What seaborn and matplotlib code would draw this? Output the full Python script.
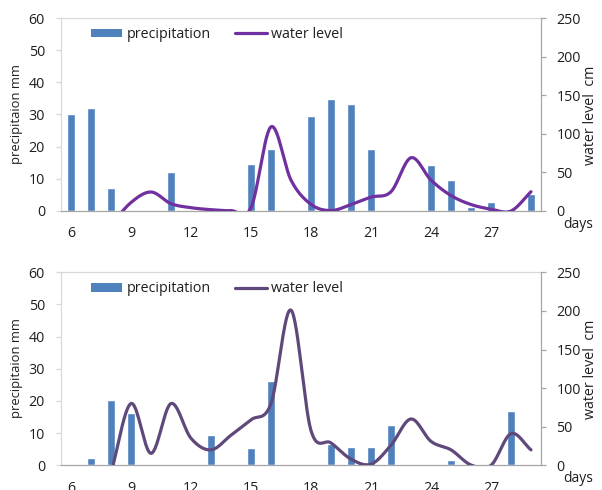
import numpy as np
import pandas as pd
import matplotlib
matplotlib.use("Agg")
import matplotlib.pyplot as plt
import seaborn as sns
from matplotlib.patches import Patch
from matplotlib.lines import Line2D

# ---------------- data ----------------
days = list(range(6, 30))
tick_days = [6, 9, 12, 15, 18, 21, 24, 27]

precip_top = [30, 32.1, 7.2, 0, 0, 12.1, 0, 0, 0, 14.6, 19.4, 0,
              29.6, 34.7, 33.3, 19.2, 0, 0, 14.4, 9.5, 1.2, 2.8, 0, 5.3]
level_top = [np.nan, np.nan, -18, 11, 24.6, 9.5, 4.3, 1.7, 0.5, 4.3, 109, 40,
             8.6, 0.6, 8.4, 18, 25, 69, 40, 20, 8.4, 2.4, 0, 25]

precip_bot = [0, 2.2, 20.3, 16.4, 0, 0, 0, 9.4, 0, 5.3, 26.2, 0,
              0, 6.5, 5.6, 5.8, 12.6, 0, 0, 1.7, 0, 0, 16.9, 0]
level_bot = [np.nan, np.nan, -10, 80, 15.5, 80, 35, 20, 39, 59, 80, 201,
             45, 29, 8, 1.5, 26, 60, 31, 20, 0.4, 0, 41, 20]

BLUE = "#4F81BD"
PURPLE_TOP = "#7030A0"
PURPLE_BOT = "#5F497A"
TEXT = "#1f1f1f"

sns.set_style("white")
plt.rcParams["font.family"] = ["Open Sans", "DejaVu Sans"]


def smooth(x, y, n=30):
    """Catmull-Rom style smoothing through the data points (like Excel smoothed line)."""
    x = np.asarray(x, float)
    y = np.asarray(y, float)
    m = np.empty_like(y)
    m[1:-1] = (y[2:] - y[:-2]) / 2.0
    m[0] = y[1] - y[0]
    m[-1] = y[-1] - y[-2]
    t = np.linspace(0, 1, n, endpoint=False)
    h00 = 2 * t**3 - 3 * t**2 + 1
    h10 = t**3 - 2 * t**2 + t
    h01 = -2 * t**3 + 3 * t**2
    h11 = t**3 - t**2
    xs, ys = [], []
    for i in range(len(x) - 1):
        dx = x[i + 1] - x[i]
        xs.append(x[i] + t * dx)
        ys.append(h00 * y[i] + h10 * m[i] + h01 * y[i + 1] + h11 * m[i + 1])
    xs.append([x[-1]])
    ys.append([y[-1]])
    return np.concatenate(xs), np.concatenate(ys)


W, H = 602, 490
fig = plt.figure(figsize=(W / 100, H / 100), dpi=100)


def panel(y0_px, precip, level, line_color):
    left = 61 / W
    width = 480 / W
    height = 193 / H
    bottom = (H - y0_px) / H
    ax = fig.add_axes([left, bottom, width, height])
    df = pd.DataFrame({"day": [str(d) for d in days], "precip": precip})
    sns.barplot(data=df, x="day", y="precip", order=[str(d) for d in days],
                color=BLUE, saturation=1, width=0.42, ax=ax, errorbar=None)
    ax.set_xlim(-0.5, len(days) - 0.5)
    ax.set_ylim(0, 60)
    ax.set_yticks(range(0, 61, 10))
    ax.set_xlabel("")
    ax.set_ylabel("")
    # x ticks: labels every 3 days, tick marks at category boundaries
    ax.set_xticks([days.index(d) for d in tick_days])
    ax.set_xticklabels([str(d) for d in tick_days])
    ax.set_xticks(np.arange(-0.5, len(days), 1.0), minor=True)
    ax.tick_params(axis="x", which="major", length=0, pad=11, labelsize=10.3, colors=TEXT)
    ax.tick_params(axis="x", which="minor", length=4, width=0.9, color="#A6A6A6", direction="out")
    ax.tick_params(axis="y", which="major", length=3.6, width=0.9, color="#D9D9D9",
                   pad=8, labelsize=10.3, labelcolor=TEXT, left=True)
    for s in ["top", "left"]:
        ax.spines[s].set_color("#D9D9D9")
        ax.spines[s].set_linewidth(0.9)
    ax.spines["bottom"].set_color("#A6A6A6")
    ax.spines["bottom"].set_linewidth(0.9)
    ax.spines["right"].set_visible(False)

    ax2 = ax.twinx()
    lv = np.asarray(level, float)
    idx = np.arange(len(days), dtype=float)
    ok = ~np.isnan(lv)
    xs, ys = smooth(idx[ok], lv[ok])
    sns.lineplot(x=xs, y=ys, ax=ax2, color=line_color, linewidth=2.3,
                 sort=False, estimator=None)
    ax2.set_xlim(-0.5, len(days) - 0.5)
    ax2.set_ylim(0, 250)
    ax2.set_yticks(range(0, 251, 50))
    ax2.set_ylabel("")
    ax2.tick_params(axis="y", which="major", length=3.6, width=0.9, color="#A6A6A6",
                    pad=7.5, labelsize=10.3, labelcolor=TEXT, right=True)
    for s in ["top", "left", "bottom"]:
        ax2.spines[s].set_visible(False)
    ax2.spines["right"].set_color("#A6A6A6")
    ax2.spines["right"].set_linewidth(0.9)

    handles = [Patch(facecolor=BLUE, edgecolor="none"),
               Line2D([], [], color=line_color, linewidth=2.3)]
    leg = ax2.legend(handles, ["precipitation", "water level"], ncol=2,
                     loc="upper left",
                     bbox_to_anchor=(30 / 480, 1 - 9 / 193),
                     frameon=False, fontsize=10.3, borderpad=0, borderaxespad=0,
                     handlelength=2.2, handleheight=0.55, handletextpad=0.3,
                     columnspacing=1.7)
    for t in leg.get_texts():
        t.set_color(TEXT)

    top_px = y0_px - 193
    fig.text(17 / W, 1 - (top_px + 96) / H, "precipitaion mm", rotation=90,
             ha="center", va="center", fontsize=9.4, color=TEXT)
    fig.text(591 / W, 1 - (top_px + 97) / H, "water level  cm", rotation=90,
             ha="center", va="center", fontsize=10.3, color=TEXT)
    fig.text(578 / W, 1 - (y0_px + 13) / H, "days", ha="center", va="center",
             fontsize=10, color=TEXT)
    return ax, ax2


panel(211, precip_top, level_top, PURPLE_TOP)
panel(465.3, precip_bot, level_bot, PURPLE_BOT)

fig.savefig("out.png", dpi=100)
